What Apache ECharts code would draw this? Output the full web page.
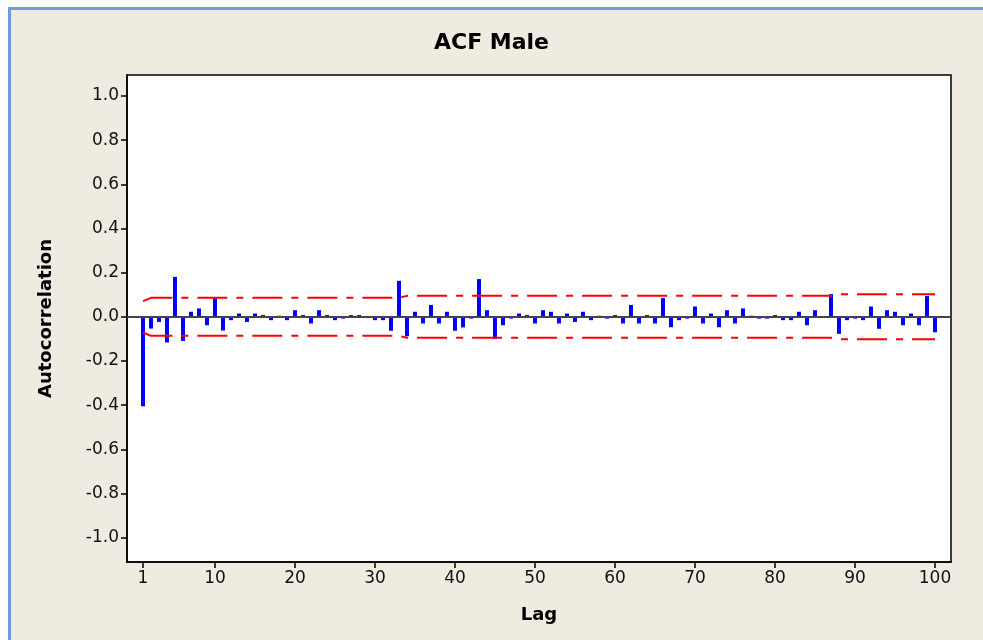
<!DOCTYPE html>
<html>
<head>
<meta charset="utf-8">
<script src="https://cdn.jsdelivr.net/npm/echarts@6/dist/echarts.min.js"></script>
<style>
html,body{margin:0;padding:0;background:#ffffff;}
#frame{position:absolute;left:8px;top:7px;width:975px;height:633px;border-left:3px solid #6a9fdc;border-top:3px solid #6a9fdc;background:#efebe1;box-sizing:border-box;}
#chart{position:absolute;left:0;top:0;width:983px;height:640px;}
</style>
</head>
<body>
<div id="frame"></div>
<div id="chart"></div>
<script>
const title = "ACF Male";
const xName = "Lag";
const yName = "Autocorrelation";
const lags = Array.from({length: 100}, (_, i) => i + 1);
const acf = [
 -0.405,-0.053,-0.023,-0.116, 0.181,-0.109, 0.023, 0.038,-0.038, 0.086,
 -0.062,-0.015, 0.015,-0.023, 0.015, 0.008,-0.015, 0.005,-0.015, 0.030,
  0.008,-0.030, 0.030, 0.008,-0.015,-0.008, 0.008, 0.008,-0.005,-0.015,
 -0.015,-0.063, 0.163,-0.088, 0.023,-0.030, 0.054,-0.030, 0.023,-0.063,
 -0.048,-0.008, 0.171, 0.030,-0.100,-0.038,-0.008, 0.015, 0.008,-0.030,
  0.030, 0.023,-0.030, 0.015,-0.023, 0.023,-0.015, 0.005,-0.008, 0.008,
 -0.030, 0.054,-0.030, 0.008,-0.030, 0.085,-0.047,-0.015,-0.008, 0.047,
 -0.030, 0.015,-0.047, 0.030,-0.030, 0.038, 0.005,-0.008,-0.008, 0.008,
 -0.015,-0.015, 0.023,-0.038, 0.030,-0.005, 0.103,-0.077,-0.015,-0.008,
 -0.015, 0.047,-0.054, 0.030, 0.023,-0.038, 0.015,-0.038, 0.094,-0.070
];
const limitLags  = [1, 2, 33, 34, 87, 88, 100];
const upperLimit = [0.071, 0.086, 0.086, 0.095, 0.095, 0.102, 0.102];
const lowerLimit = [-0.071, -0.086, -0.086, -0.095, -0.095, -0.101, -0.101];
const xTicks = [1, 10, 20, 30, 40, 50, 60, 70, 80, 90, 100];
const yTicks = [-1.0, -0.8, -0.6, -0.4, -0.2, 0.0, 0.2, 0.4, 0.6, 0.8, 1.0];

const chart = echarts.init(document.getElementById('chart'), null, {renderer: 'canvas'});
const fontFam = "'DejaVu Sans', Verdana, sans-serif";
const dash = [30, 9, 7, 9];
chart.setOption({
  animation: false,
  backgroundColor: 'transparent',
  title: {
    text: title, left: 'center', top: 27,
    textStyle: {fontFamily: fontFam, fontWeight: 'bold', fontSize: 22, color: '#000'}
  },
  grid: {left: 127, right: 32, top: 75, bottom: 78, show: true, backgroundColor: '#ffffff', borderColor: '#000', borderWidth: 1.5},
  xAxis: {
    type: 'value', min: -1, max: 102,
    name: xName, nameLocation: 'middle', nameGap: 44,
    nameTextStyle: {fontFamily: fontFam, fontWeight: 'bold', fontSize: 18, color: '#000'},
    axisLine: {show: true, onZero: false, lineStyle: {color: '#000', width: 1.5}},
    axisTick: {show: true, customValues: xTicks, length: 6, lineStyle: {color: '#000', width: 1.5}},
    axisLabel: {customValues: xTicks, fontFamily: fontFam, fontSize: 17, color: '#111', margin: 8},
    splitLine: {show: false}
  },
  yAxis: {
    type: 'value', min: -1.11, max: 1.095,
    name: yName, nameLocation: 'middle', nameGap: 72, nameRotate: 90,
    nameTextStyle: {fontFamily: fontFam, fontWeight: 'bold', fontSize: 18, color: '#000'},
    axisLine: {show: true, onZero: false, lineStyle: {color: '#000', width: 1.5}},
    axisTick: {show: true, customValues: yTicks, length: 6, lineStyle: {color: '#000', width: 1.5}},
    axisLabel: {customValues: yTicks, fontFamily: fontFam, fontSize: 17, color: '#111', margin: 8,
      formatter: v => v.toFixed(1)},
    splitLine: {show: false}
  },
  series: [
    {
      type: 'bar', barWidth: 4, barGap: '-100%',
      data: lags.map((l, i) => [l, acf[i]]),
      itemStyle: {color: '#0000ff'},
      markLine: {
        silent: true, symbol: 'none', label: {show: false},
        lineStyle: {color: '#444', width: 2, type: 'solid'},
        data: [{yAxis: 0}]
      },
      z: 3
    },
    {
      type: 'line', symbol: 'none',
      data: limitLags.map((l, i) => [l, upperLimit[i]]),
      lineStyle: {color: '#ff0000', width: 2, type: dash},
      z: 4
    },
    {
      type: 'line', symbol: 'none',
      data: limitLags.map((l, i) => [l, lowerLimit[i]]),
      lineStyle: {color: '#ff0000', width: 2, type: dash},
      z: 4
    }
  ]
});
</script>
</body>
</html>
